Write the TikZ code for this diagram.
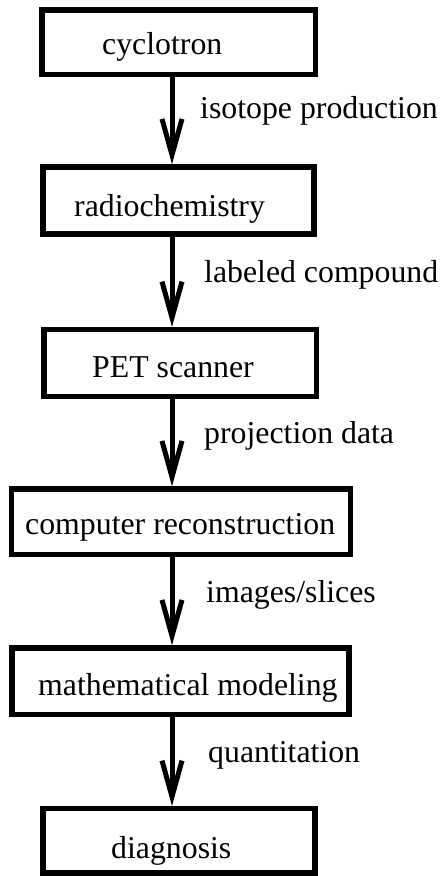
\documentclass[tikz,border=0pt]{standalone}
\usepackage{fontspec}
\setmainfont{Liberation Serif}
\usetikzlibrary{arrows.meta}
\begin{document}
\begin{tikzpicture}[x=1pt,y=-1pt,
  box/.style={draw, line width=5.5pt, rectangle, inner sep=0pt},
  txt/.style={inner sep=0pt, anchor=base west, font=\fontsize{31.8}{38}\selectfont},
  arr/.style={line width=5pt, -{Straight Barb[length=36pt, width=20pt]}}]
\fill[white] (0,0) rectangle (442,876);
\useasboundingbox (0,0) rectangle (442,876);
\coordinate (ax) at (172,0);
% boxes
\node[box, minimum width=273.5pt, minimum height=64.5pt] (b1) at (178.75,42.25) {};
\node[box, minimum width=271pt, minimum height=67pt] (b2) at (178.5,200.5) {};
\node[box, minimum width=272.5pt, minimum height=66.6pt] (b3) at (180.25,363) {};
\node[box, minimum width=339pt, minimum height=65.5pt] (b4) at (181,521.75) {};
\node[box, minimum width=337pt, minimum height=66.5pt] (b5) at (180.5,681.25) {};
\node[box, minimum width=272pt, minimum height=64.3pt] (b6) at (179,840.85) {};
% box texts
\node[txt] (t1) at (102,54) {cyclotron};
\node[txt] (t2) at (74,216) {radiochemistry};
\node[txt] (t3) at (92,377) {PET scanner};
\node[txt] (t4) at (25,534) {computer reconstruction};
\node[txt] (t5) at (38,695) {mathematical modeling};
\node[txt] (t6) at (111,858) {diagnosis};
% connectors
\draw[arr] (b1.south -| ax) -- (b2.north -| ax);
\draw[arr] (b2.south -| ax) -- (b3.north -| ax);
\draw[arr] (b3.south -| ax) -- (b4.north -| ax);
\draw[arr] (b4.south -| ax) -- (b5.north -| ax);
\draw[arr] (b5.south -| ax) -- (b6.north -| ax);
% connector labels
\node[txt] (l1) at (200,118) {isotope production};
\node[txt] (l2) at (204,282) {labeled compound};
\node[txt] (l3) at (204,443) {projection data};
\node[txt] (l4) at (206,602) {images/slices};
\node[txt] (l5) at (208,762) {quantitation};
\end{tikzpicture}
\end{document}
